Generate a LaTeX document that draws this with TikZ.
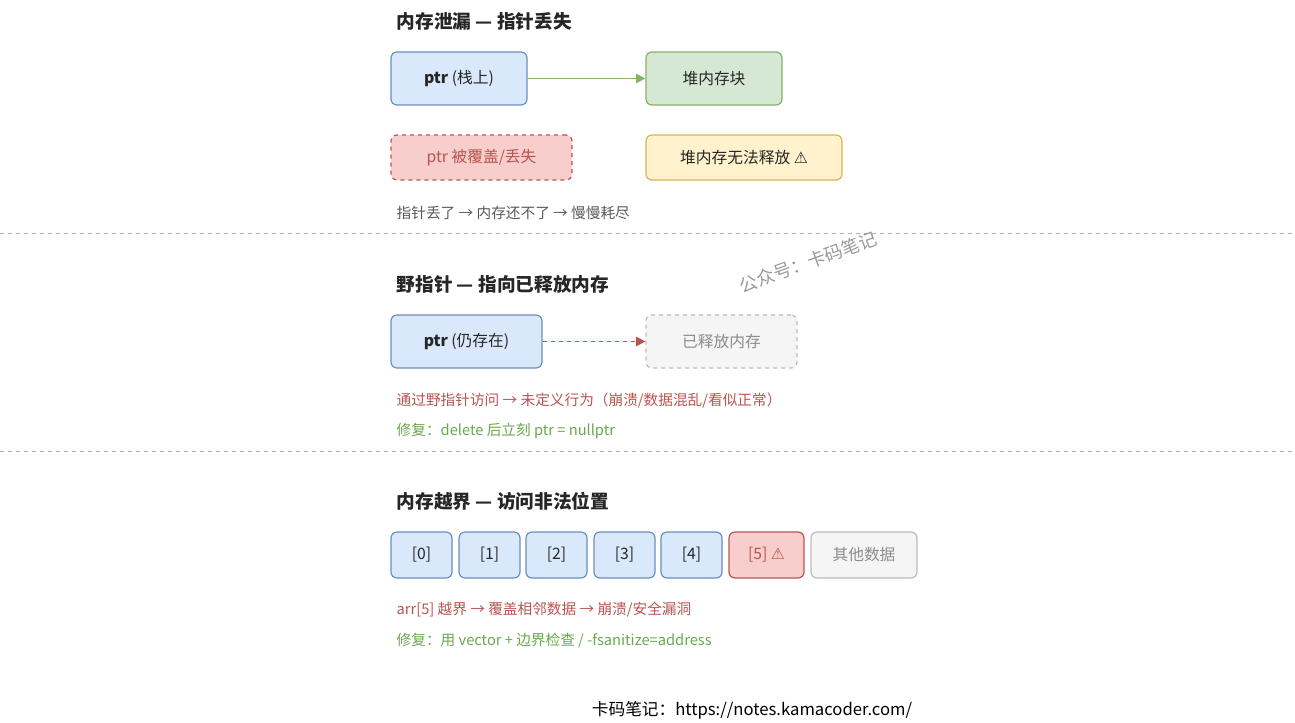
\documentclass[tikz,border=0pt]{standalone}
\usepackage{fontspec}
\setmainfont{Noto Sans CJK SC}
\newfontfamily\dv{DejaVu Sans}
\usetikzlibrary{arrows.meta}
\definecolor{bF}{HTML}{DAE8FC}\definecolor{bS}{HTML}{6C8EBF}
\definecolor{gF}{HTML}{D5E8D4}\definecolor{gS}{HTML}{82B366}
\definecolor{rF}{HTML}{F8CECC}\definecolor{rS}{HTML}{B85450}
\definecolor{yF}{HTML}{FFF2CC}\definecolor{yS}{HTML}{D6B656}
\definecolor{hF}{HTML}{F5F5F5}\definecolor{hS}{HTML}{BBBBBB}
\definecolor{txtR}{HTML}{B85450}\definecolor{txtG}{HTML}{6AA84F}
\begin{document}
\begin{tikzpicture}[x=0.75pt,y=-0.75pt,
 box/.style={draw,rounded corners=4.5pt,line width=0.9pt,inner sep=0pt,font=\fontsize{11.8}{13}\selectfont,text=black!85},
 blue/.style={box,fill=bF,draw=bS},
 title/.style={anchor=west,font=\fontsize{14}{16}\selectfont\bfseries,text=black!85},
 note/.style={anchor=west,font=\fontsize{11}{13}\selectfont},
 sep/.style={draw=black!30,dashed,line width=0.7pt}]
\useasboundingbox (0,0) rectangle (1295,722);
\node[title] (t1) at (392,21) {内存泄漏 — 指针丢失};
\node[blue,minimum width=102pt,minimum height=39.75pt] (p1) at (459,78.5) {\textbf{ptr} (栈上)};
\node[box,fill=gF,draw=gS,minimum width=102pt,minimum height=39.75pt] (h1) at (714,78.5) {堆内存块};
\draw[gS,line width=1.1pt,-{Triangle[length=7pt,width=7pt]}] (p1) -- (h1);
\node[box,fill=rF,draw=rS,dashed,text=txtR,minimum width=135.75pt,minimum height=33.75pt] (o1) at (481.5,157.5) {ptr 被覆盖/丢失};
\node[box,fill=yF,draw=yS,minimum width=147pt,minimum height=33.75pt] (y1) at (744,157.5) {堆内存无法释放 {\dv ⚠}};
\node[note,text=black!65] (n1) at (392,213) {指针丢了 → 内存还不了 → 慢慢耗尽};
\draw[sep] (0,233) -- (1295,233);
\node[rotate=20,text=black!40,font=\fontsize{13.5}{15}\selectfont] (wm) at (808,262) {公众号：卡码笔记};
\node[title] (t2) at (392,284) {野指针 — 指向已释放内存};
\node[blue,minimum width=113.25pt,minimum height=39.75pt] (p2) at (466.5,341.5) {\textbf{ptr} (仍存在)};
\node[box,fill=hF,draw=hS,dashed,text=black!45,minimum width=113.25pt,minimum height=39.75pt] (f2) at (721.5,341.5) {已释放内存};
\draw[rS,line width=1.1pt,dashed,-{Triangle[length=7pt,width=7pt]}] (p2) -- (f2);
\node[note,text=txtR] (n2) at (392,401) {通过野指针访问 → 未定义行为（崩溃/数据混乱/看似正常）};
\node[note,text=txtG] (n3) at (392,431) {修复：delete 后立刻 ptr = nullptr};
\draw[sep] (0,451) -- (1295,451);
\node[title] (t3) at (392,501) {内存越界 — 访问非法位置};
\foreach \n/\cx in {0/421.5,1/489.5,2/556.5,3/624.5,4/691.5}
  \node[blue,minimum width=45.75pt,minimum height=34.5pt] (a\n) at (\cx,555) {[\n]};
\node[box,fill=rF,draw=rS,text=txtR,minimum width=56.25pt,minimum height=34.5pt] (a5) at (766.5,555) {[5] {\dv ⚠}};
\node[box,fill=hF,draw=hS,text=black!45,minimum width=79.5pt,minimum height=34.5pt] (a6) at (864,555) {其他数据};
\node[note,text=txtR] (n4) at (392,610) {arr[5] 越界 → 覆盖相邻数据 → 崩溃/安全漏洞};
\node[note,text=txtG] (n5) at (392,641) {修复：用 vector + 边界检查 / -fsanitize=address};
\node[font=\fontsize{12.5}{15}\selectfont,text=black] (ft) at (752,710) {卡码笔记：https://notes.kamacoder.com/};
\end{tikzpicture}
\end{document}
